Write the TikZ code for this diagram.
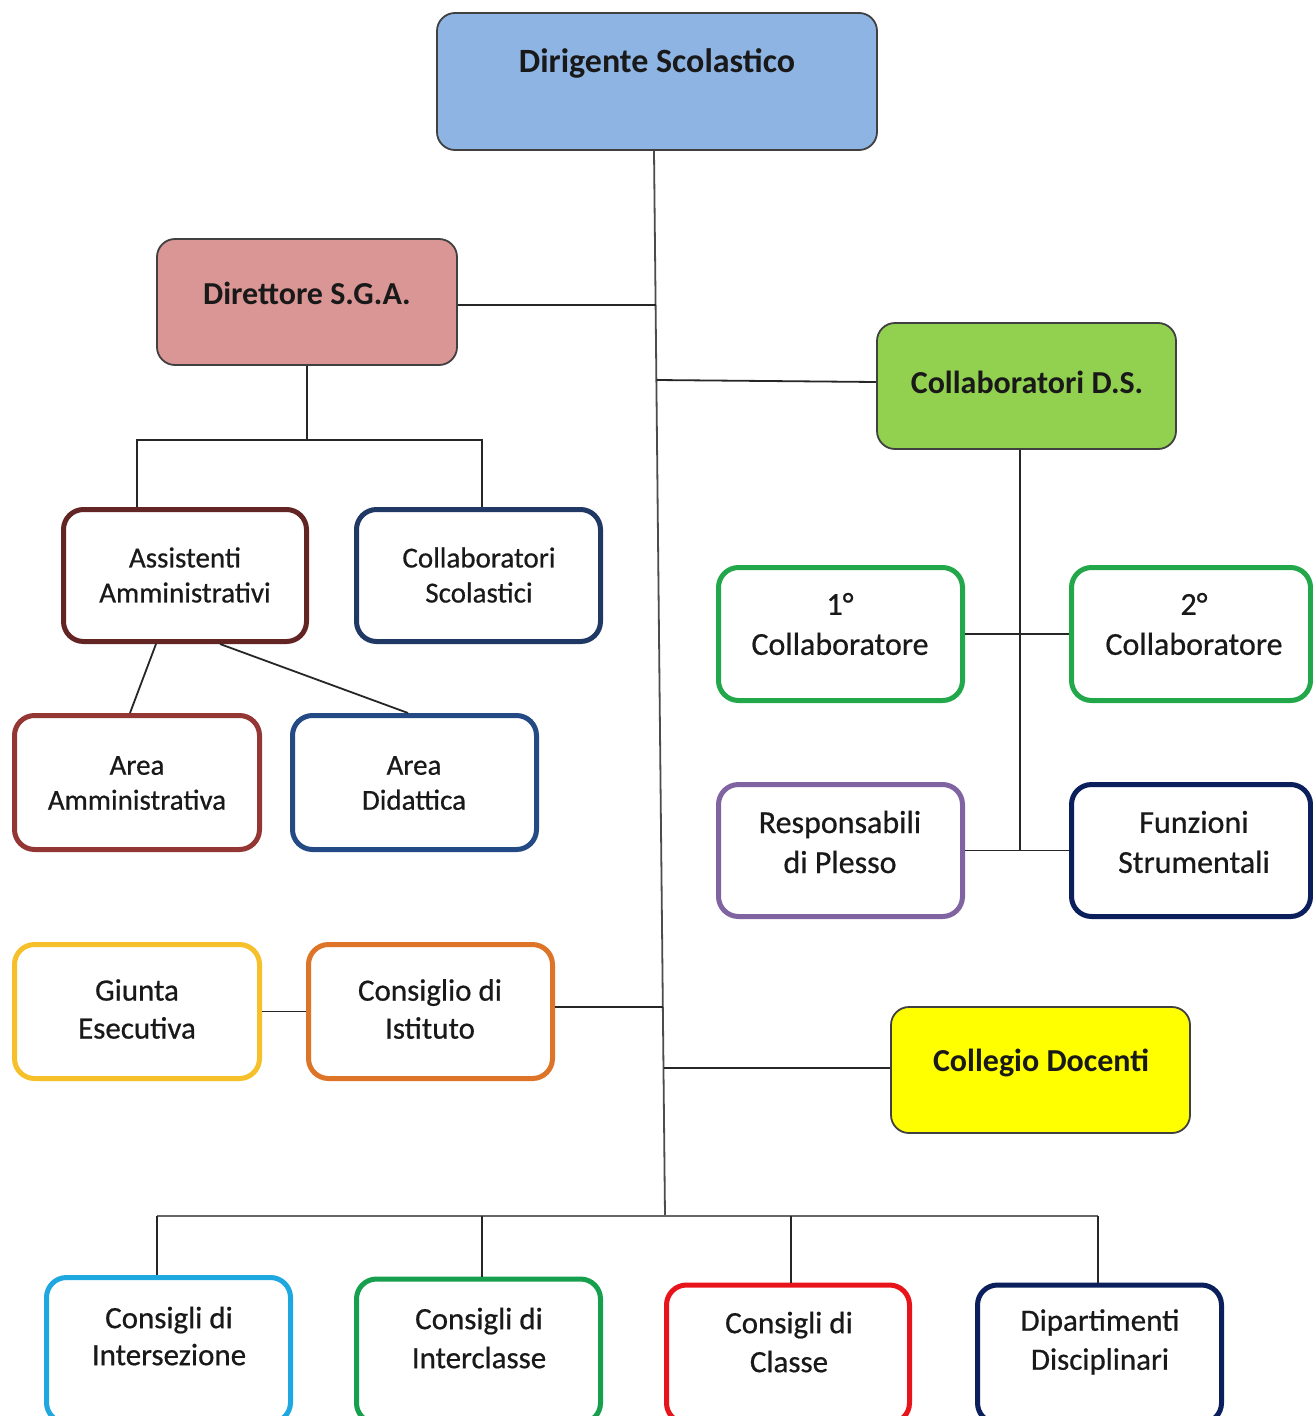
\documentclass[tikz,border=0pt]{standalone}
\usepackage{fontspec}
\setmainfont{Carlito}
\newfontfamily\heavyreg[FakeBold=0.6]{Carlito}
\usetikzlibrary{calc}
\definecolor{dsfill}{HTML}{8EB4E3}
\definecolor{sgafill}{HTML}{D99694}
\definecolor{cdsfill}{HTML}{92D050}
\definecolor{cdfill}{HTML}{FFFF00}
\definecolor{edgegray}{HTML}{404040}
\definecolor{cAA}{HTML}{632523}
\definecolor{cCS}{HTML}{203864}
\definecolor{cAM}{HTML}{943634}
\definecolor{cAD}{HTML}{244A85}
\definecolor{cGreen}{HTML}{22A84A}
\definecolor{cPurple}{HTML}{8064A2}
\definecolor{cNavy}{HTML}{0A1F5C}
\definecolor{cGold}{HTML}{F5C02A}
\definecolor{cOrange}{HTML}{DD7428}
\definecolor{cCyan}{HTML}{1FA8E0}
\definecolor{cGreenB}{HTML}{16A04E}
\definecolor{cRed}{HTML}{E8141B}
\begin{document}
\begin{tikzpicture}[x=1pt,y=-1pt,
  fbox/.style={draw=edgegray, line width=1.8pt, rounded corners=18pt, inner sep=0pt},
  wbox/.style={line width=5pt, rounded corners=20pt, fill=white, inner sep=0pt},
  btxt/.style={inner sep=0pt, align=center, text=black!90, font=\bfseries\fontsize{32}{38}\selectfont},
  stxt/.style={inner sep=0pt, align=center, text=black!90, font=\heavyreg\fontsize{29}{35}\selectfont},
  ltxt/.style={inner sep=0pt, align=center, text=black!90, font=\heavyreg\fontsize{32}{40}\selectfont},
  conn/.style={draw=black!85, line width=1.8pt}]
\useasboundingbox (0,0) rectangle (1313,1416);
\clip (0,0) rectangle (1313,1416);
\fill[white] (0,0) rectangle (1313,1416);

% filled boxes
\node[fbox, fill=dsfill, minimum width=440pt, minimum height=137pt] (ds) at (657,81.5) {};
\node[btxt, font=\bfseries\fontsize{34}{40}\selectfont] (ds-t) at (657,63) {Dirigente Scolastico};
\node[fbox, fill=sgafill, minimum width=300pt, minimum height=126pt] (sga) at (307,302) {};
\node[btxt] (sga-t) at (307,293) {Direttore S.G.A.};
\node[fbox, fill=cdsfill, minimum width=299pt, minimum height=126pt] (cds) at (1026.5,386) {};
\node[btxt] (cds-t) at (1027,382) {Collaboratori D.S.};
\node[fbox, fill=cdfill, minimum width=299pt, minimum height=126pt] (cd) at (1040.5,1070) {};
\node[btxt] (cd-t) at (1041,1063) {Collegio Docenti};

% white boxes, left
\node[wbox, draw=cAA, minimum width=243pt, minimum height=132pt] (aa) at (185,575.5) {};
\node[stxt] (aa-t) at (185,575) {Assistenti\\Amministrativi};
\node[wbox, draw=cCS, minimum width=244pt, minimum height=132pt] (cs) at (478.5,575.5) {};
\node[stxt] (cs-t) at (479,575) {Collaboratori\\Scolastici};
\node[wbox, draw=cAM, minimum width=245pt, minimum height=134pt] (am) at (137,782.5) {};
\node[stxt] (am-t) at (137,783) {Area\\Amministrativa};
\node[wbox, draw=cAD, minimum width=244pt, minimum height=134pt] (ad) at (414.5,782.5) {};
\node[stxt] (ad-t) at (414,783) {Area\\Didattica};

% white boxes, right
\node[wbox, draw=cGreen, minimum width=244pt, minimum height=133pt] (c1) at (840.5,634) {};
\node[ltxt] (c1-t) at (840,624) {1°\\Collaboratore};
\node[wbox, draw=cGreen, minimum width=239pt, minimum height=133pt] (c2) at (1191,634) {};
\node[ltxt] (c2-t) at (1194,624) {2°\\Collaboratore};
\node[wbox, draw=cPurple, minimum width=244pt, minimum height=132pt] (rp) at (840.5,850.5) {};
\node[ltxt] (rp-t) at (840,842) {Responsabili\\di Plesso};
\node[wbox, draw=cNavy, minimum width=239pt, minimum height=132pt] (fs) at (1191,850.5) {};
\node[ltxt] (fs-t) at (1194,842) {Funzioni\\Strumentali};

% giunta / consiglio
\node[wbox, draw=cGold, minimum width=245pt, minimum height=134pt] (ge) at (137,1011.5) {};
\node[ltxt, font=\heavyreg\fontsize{31}{38}\selectfont] (ge-t) at (137,1009) {Giunta\\Esecutiva};
\node[wbox, draw=cOrange, minimum width=244pt, minimum height=134pt] (ci) at (430.5,1011.5) {};
\node[ltxt, font=\heavyreg\fontsize{31}{38}\selectfont] (ci-t) at (430,1009) {Consiglio di\\Istituto};

% bottom row
\node[wbox, draw=cCyan, minimum width=244pt, minimum height=145pt] (b1) at (168.5,1350) {};
\node[ltxt, font=\heavyreg\fontsize{31}{37}\selectfont] (b1-t) at (169,1336) {Consigli di\\Intersezione};
\node[wbox, draw=cGreenB, minimum width=244pt, minimum height=144pt] (b2) at (478.5,1351) {};
\node[ltxt, font=\heavyreg\fontsize{31}{39}\selectfont] (b2-t) at (479,1338) {Consigli di\\Interclasse};
\node[wbox, draw=cRed, minimum width=243pt, minimum height=138pt] (b3) at (788,1354) {};
\node[ltxt, font=\heavyreg\fontsize{31}{39}\selectfont] (b3-t) at (789,1342) {Consigli di\\Classe};
\node[wbox, draw=cNavy, minimum width=244pt, minimum height=138pt] (b4) at (1099.5,1354) {};
\node[ltxt, font=\heavyreg\fontsize{31}{39}\selectfont] (b4-t) at (1100,1342) {Dipartimenti\\Disciplinari};

% main trunk
\coordinate (mtop) at ($(ds.south)+(-3,0)$);
\coordinate (mbot) at (665,1216);
\draw[conn, draw=black!70] (mtop) -- (mbot);
\coordinate (j1) at (655.5,305);
\coordinate (j2) at (656.5,380);
\coordinate (j3) at (663,1007);
\coordinate (j4) at (663.5,1068);
\draw[conn] (sga.east |- j1) -- (j1);
\draw[conn] (j2) -- ($(cds.west)+(0,-4)$);
\draw[conn] (ci.east |- j3) -- (j3);
\draw[conn] (j4) -- (cd.west |- j4);

% SGA branch
\coordinate (h1) at (137,440);
\coordinate (h2) at (482,440);
\draw[conn] (sga.south) -- (sga.south |- h1);
\draw[conn] (h1 |- aa.north) -- (h1) -- (h2) -- (h2 |- cs.north);
\draw[conn] ($(aa.south)+(-29,0)$) -- ($(am.north)+(-7,0)$);
\draw[conn] ($(aa.south)+(35,0)$) -- ($(ad.north)+(-6.5,0)$);

% collaboratori D.S. branch
\coordinate (v1) at ($(cds.south)+(-6.5,0)$);
\draw[conn] (v1) -- (v1 |- rp.east);
\draw[conn] (c1.east) -- (c2.west);
\draw[conn] (rp.east) -- (fs.west);

% giunta - consiglio
\draw[conn] (ge.east) -- (ci.west);

% bottom bus
\coordinate (d1) at (157,1216);
\coordinate (d2) at (482,1216);
\coordinate (d3) at (791,1216);
\coordinate (d4) at (1098,1216);
\draw[conn, draw=black!60] (d1) -- (d4);
\draw[conn] (d1) -- (d1 |- b1.north);
\draw[conn] (d2) -- (d2 |- b2.north);
\draw[conn] (d3) -- (d3 |- b3.north);
\draw[conn] (d4) -- (d4 |- b4.north);
\end{tikzpicture}
\end{document}
